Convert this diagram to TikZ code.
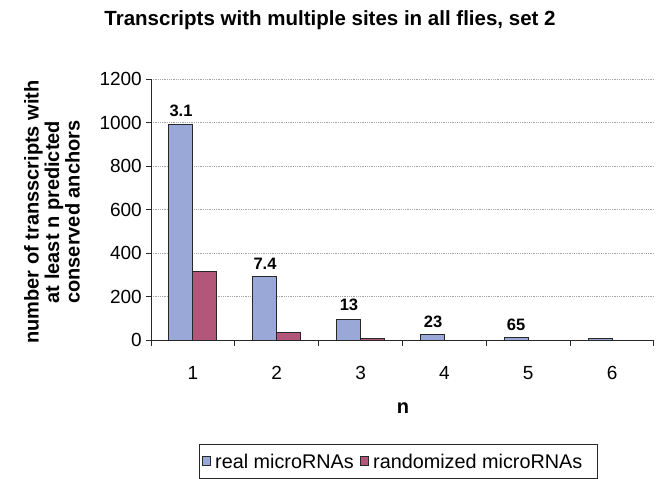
\documentclass[tikz,border=0pt]{standalone}
\usepackage{fontspec}
\setmainfont{Liberation Sans}
\definecolor{realc}{RGB}{153,168,214}
\definecolor{randc}{RGB}{178,86,122}
\definecolor{gridc}{RGB}{165,165,165}
\definecolor{edgec}{RGB}{40,40,40}
\begin{document}
\begin{tikzpicture}[x=1pt,y=-1pt,
  gridline/.style={gridc,densely dotted,line width=0.8pt},
  axisline/.style={edgec,line width=1pt},
  barbox/.style={draw=edgec,line width=0.9pt},
  ticklab/.style={font=\fontsize{19}{19}\selectfont,inner sep=0pt},
  leglab/.style={font=\fontsize{19.8}{19.8}\selectfont,inner sep=0pt},
  barlab/.style={font=\bfseries\fontsize{16.5}{16.5}\selectfont,inner sep=0pt},
  legbox/.style={draw=edgec,line width=0.9pt}]
\useasboundingbox (0,0) rectangle (662,479);
\fill[white] (0,0) rectangle (662,479);
% title
\node[font=\bfseries\fontsize{20.5}{20.5}\selectfont,inner sep=0pt] (title) at (330,20) {Transcripts with multiple sites in all flies, set 2};
% grid lines
\foreach \v in {1,...,6}
  \draw[gridline] (151,{340-\v*43.5}) -- (654,{340-\v*43.5});
% y axis
\draw[axisline] (151,79) -- (151,340);
\foreach \v/\t in {0/0,1/200,2/400,3/600,4/800,5/1000,6/1200}{
  \draw[axisline] (146,{340-\v*43.5}) -- (151,{340-\v*43.5});
  \node[ticklab,anchor=east] (yt\v) at (142,{340-\v*43.5}) {\t};
}
% bars
\foreach \i/\b/\r in {1/124/271,2/276/332,3/319/338.5,4/334/340,5/337/340,6/338/340}{
  \pgfmathsetmacro\c{151+83.83*(\i-0.5)}
  \draw[barbox,fill=realc] (\c-24,340) rectangle (\c,\b);
  \ifdim\r pt<339.9pt
    \draw[barbox,fill=randc] (\c,340) rectangle (\c+24,\r);
  \fi
  \node[ticklab] (xt\i) at (\c,373) {\i};
}
% x axis
\draw[axisline] (151,340) -- (654,340);
\foreach \k in {0,...,6}
  \draw[axisline] ({151+83.83*\k},340) -- ({151+83.83*\k},346);
% bar labels
\node[barlab] (l1) at (181,111) {3.1};
\node[barlab] (l2) at (265,264) {7.4};
\node[barlab] (l3) at (349,305) {13};
\node[barlab] (l4) at (433,322) {23};
\node[barlab] (l5) at (516,325) {65};
% axis titles
\node[font=\bfseries\fontsize{20}{20}\selectfont,inner sep=0pt] (xlab) at (403,408) {n};
\node[font=\bfseries\fontsize{20}{20.5}\selectfont,inner sep=0pt,align=center,rotate=90] (ylab) at (52,212)
  {number of transscripts with\\at least n predicted\\conserved anchors};
% legend
\draw[legbox,fill=white] (199,444) rectangle (597,478);
\draw[barbox,fill=realc] (202,456.5) rectangle (210,465);
\node[leglab,anchor=west] (leg1) at (215,461) {real microRNAs};
\draw[barbox,fill=randc] (360,456.5) rectangle (368,465);
\node[leglab,anchor=west] (leg2) at (373,461) {randomized microRNAs};
\end{tikzpicture}
\end{document}
